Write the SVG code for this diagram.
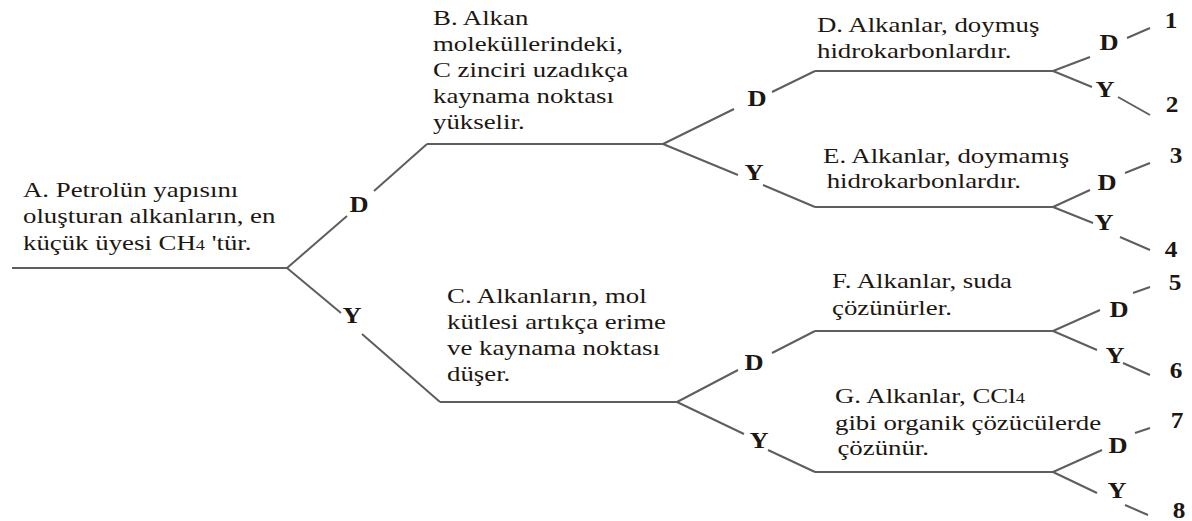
<svg xmlns="http://www.w3.org/2000/svg" width="1192" height="521" viewBox="0 0 1192 521">
<style>
.t{font-family:"Liberation Serif","Times New Roman",serif;font-size:22px;fill:#1c1712;}
.b{font-family:"Liberation Serif","Times New Roman",serif;font-size:23px;font-weight:bold;fill:#1c1712;text-anchor:middle;}
.s{font-size:15px;}
#connectors line{stroke:#5e5e5e;stroke-width:2;fill:none;}
</style>
<rect width="1192" height="521" fill="#ffffff"/>
<g id="connectors">
<line x1="12" y1="268" x2="287" y2="268"/>
<line x1="287" y1="268" x2="347" y2="216"/>
<line x1="374" y1="191" x2="427" y2="144"/>
<line x1="287" y1="268" x2="341" y2="313"/>
<line x1="362" y1="334" x2="440" y2="402"/>
<line x1="427" y1="144" x2="663" y2="144"/>
<line x1="663" y1="144" x2="734" y2="109"/>
<line x1="772" y1="92" x2="815" y2="71"/>
<line x1="663" y1="144" x2="738" y2="175"/>
<line x1="763" y1="185" x2="815" y2="207"/>
<line x1="440" y1="402" x2="677" y2="402"/>
<line x1="677" y1="402" x2="738" y2="370"/>
<line x1="772" y1="353" x2="815" y2="331"/>
<line x1="677" y1="402" x2="744" y2="434"/>
<line x1="768" y1="450" x2="815" y2="472"/>
<line x1="815" y1="71" x2="1053" y2="71"/>
<line x1="1053" y1="71" x2="1090" y2="57"/>
<line x1="1053" y1="71" x2="1092" y2="87"/>
<line x1="1127" y1="38" x2="1150" y2="28"/>
<line x1="1118" y1="97" x2="1150" y2="115"/>
<line x1="815" y1="207" x2="1053" y2="207"/>
<line x1="1053" y1="207" x2="1090" y2="190"/>
<line x1="1053" y1="207" x2="1093" y2="223"/>
<line x1="1125" y1="173" x2="1150" y2="163"/>
<line x1="1120" y1="237" x2="1150" y2="250"/>
<line x1="815" y1="331" x2="1053" y2="331"/>
<line x1="1053" y1="331" x2="1100" y2="310"/>
<line x1="1053" y1="331" x2="1097" y2="350"/>
<line x1="1133" y1="293" x2="1150" y2="287"/>
<line x1="1123" y1="363" x2="1150" y2="375"/>
<line x1="815" y1="472" x2="1053" y2="472"/>
<line x1="1053" y1="472" x2="1102" y2="450"/>
<line x1="1053" y1="472" x2="1097" y2="493"/>
<line x1="1135" y1="433" x2="1150" y2="428"/>
<line x1="1125" y1="505" x2="1148" y2="515"/>
</g>
<g id="nodeA">
<text class="t" transform="translate(23,197) scale(1.22 1)"><tspan x="0" y="0">A. Petrolün yapısını</tspan><tspan x="0" y="26.5">oluşturan alkanların, en</tspan><tspan x="0" y="53">küçük üyesi CH<tspan class="s">4</tspan> 'tür.</tspan></text>
</g>
<g id="nodeB">
<text class="t" transform="translate(433,25) scale(1.22 1)"><tspan x="0" y="0">B. Alkan</tspan><tspan x="0" y="26">moleküllerindeki,</tspan><tspan x="0" y="52">C zinciri uzadıkça</tspan><tspan x="0" y="78">kaynama noktası</tspan><tspan x="0" y="104">yükselir.</tspan></text>
</g>
<g id="nodeC">
<text class="t" transform="translate(447,303) scale(1.22 1)"><tspan x="0" y="0">C. Alkanların, mol</tspan><tspan x="0" y="26">kütlesi artıkça erime</tspan><tspan x="0" y="52">ve kaynama noktası</tspan><tspan x="0" y="78">düşer.</tspan></text>
</g>
<g id="nodeD">
<text class="t" transform="translate(817,32) scale(1.22 1)"><tspan x="0" y="0">D. Alkanlar, doymuş</tspan><tspan x="0" y="26">hidrokarbonlardır.</tspan></text>
</g>
<g id="nodeE">
<text class="t" transform="translate(823,163) scale(1.22 1)"><tspan x="0" y="0">E. Alkanlar, doymamış</tspan><tspan x="3" y="25">hidrokarbonlardır.</tspan></text>
</g>
<g id="nodeF">
<text class="t" transform="translate(832,288) scale(1.22 1)"><tspan x="0" y="0">F. Alkanlar, suda</tspan><tspan x="0" y="27">çözünürler.</tspan></text>
</g>
<g id="nodeG">
<text class="t" transform="translate(835,403) scale(1.22 1)"><tspan x="0" y="0">G. Alkanlar, CCl<tspan class="s">4</tspan></tspan><tspan x="0" y="27">gibi organik çözücülerde</tspan><tspan x="2" y="52">çözünür.</tspan></text>
</g>
<g id="labels">
<text class="b" transform="translate(359,212) scale(1.15 1)">D</text>
<text class="b" transform="translate(352,323) scale(1.15 1)">Y</text>
<text class="b" transform="translate(757,106) scale(1.15 1)">D</text>
<text class="b" transform="translate(754,180) scale(1.15 1)">Y</text>
<text class="b" transform="translate(754,370) scale(1.15 1)">D</text>
<text class="b" transform="translate(759,448) scale(1.15 1)">Y</text>
<text class="b" transform="translate(1109,50) scale(1.15 1)">D</text>
<text class="b" transform="translate(1105,97) scale(1.15 1)">Y</text>
<text class="b" transform="translate(1107,190) scale(1.15 1)">D</text>
<text class="b" transform="translate(1104,230) scale(1.15 1)">Y</text>
<text class="b" transform="translate(1119,317) scale(1.15 1)">D</text>
<text class="b" transform="translate(1115,363) scale(1.15 1)">Y</text>
<text class="b" transform="translate(1118,453) scale(1.15 1)">D</text>
<text class="b" transform="translate(1117,498) scale(1.15 1)">Y</text>
</g>
<g id="outcomes">
<text class="b" transform="translate(1171,28) scale(1.1 1)">1</text>
<text class="b" transform="translate(1172,112) scale(1.1 1)">2</text>
<text class="b" transform="translate(1176,163) scale(1.1 1)">3</text>
<text class="b" transform="translate(1171,257) scale(1.1 1)">4</text>
<text class="b" transform="translate(1175,290) scale(1.1 1)">5</text>
<text class="b" transform="translate(1176,378) scale(1.1 1)">6</text>
<text class="b" transform="translate(1177,428) scale(1.1 1)">7</text>
<text class="b" transform="translate(1179,518) scale(1.1 1)">8</text>
</g>
</svg>
